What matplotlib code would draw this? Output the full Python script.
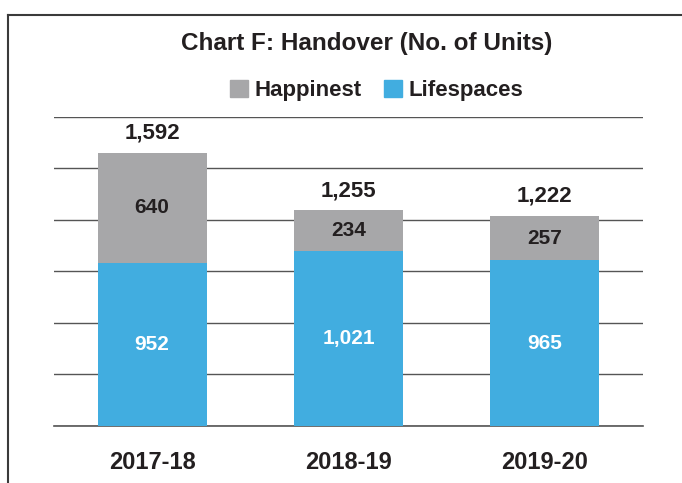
import matplotlib
matplotlib.use("Agg")
import matplotlib.pyplot as plt
from matplotlib.lines import Line2D
from matplotlib.patches import Patch
import numpy as np

###### DATA ##########
years = ["2017-18", "2018-19", "2019-20"]
lifespaces = [952, 1021, 965]
happinest = [640, 234, 257]
totals = [1592, 1255, 1222]
########################

GRAY = "#a7a7a9"
BLUE = "#41ade0"
TXT = "#231f20"

plt.rcParams['font.family'] = ['Liberation Sans', 'DejaVu Sans']

fig = plt.figure(figsize=(6.82, 4.83), dpi=100)
ax = fig.add_axes([0.079, 0.118, 0.864, 0.640])

x = np.arange(len(years))
w = 0.555
ax.bar(x, lifespaces, w, color=BLUE, zorder=3)
ax.bar(x, happinest, w, bottom=lifespaces, color=GRAY, zorder=3)

for i in range(len(years)):
    ax.text(x[i], lifespaces[i] / 2, "{:,}".format(lifespaces[i]), ha='center', va='center',
            color='white', fontsize=15, fontweight='bold', zorder=4)
    ax.text(x[i], lifespaces[i] + happinest[i] / 2, "{:,}".format(happinest[i]), ha='center',
            va='center', color=TXT, fontsize=15, fontweight='bold', zorder=4)
    ax.text(x[i], totals[i] + 55, "{:,}".format(totals[i]), ha='center', va='bottom',
            color=TXT, fontsize=16, fontweight='bold', zorder=4)

ax.set_xlim(-0.5, 2.5)
ax.set_ylim(0, 1800)
ax.set_yticks(np.arange(0, 1801, 300))
ax.yaxis.grid(True, color='#555555', linewidth=1.0, zorder=0)
ax.set_yticklabels([])
ax.tick_params(axis='y', length=0)
ax.tick_params(axis='x', length=0, pad=18)
ax.set_xticks(x)
ax.set_xticklabels(years, fontsize=17, fontweight='bold', color=TXT)
for s in ['top', 'left', 'right']:
    ax.spines[s].set_visible(False)
ax.spines['bottom'].set_color('#555555')
ax.spines['bottom'].set_linewidth(1.2)

fig.text(0.537, 0.909, "Chart F: Handover (No. of Units)", ha='center', va='center',
         fontsize=17.5, fontweight='bold', color=TXT)
handles = [Patch(color=GRAY, label="Happinest"), Patch(color=BLUE, label="Lifespaces")]
leg = fig.legend(handles=handles, loc='center', bbox_to_anchor=(0.552, 0.812), ncol=2,
                 frameon=False, handlelength=0.8, handleheight=0.8, handletextpad=0.3,
                 columnspacing=1.0, prop={'size': 16, 'weight': 'bold'})
for t in leg.get_texts():
    t.set_color(TXT)

# frame around the chart
fig.add_artist(Line2D([8 / 682, 8 / 682], [0, 1 - 15 / 483], transform=fig.transFigure,
                      color='#3a3a3a', linewidth=1.5))
fig.add_artist(Line2D([8 / 682, 1], [1 - 15 / 483, 1 - 15 / 483], transform=fig.transFigure,
                      color='#3a3a3a', linewidth=1.5))

fig.savefig("out.png", dpi=100)
